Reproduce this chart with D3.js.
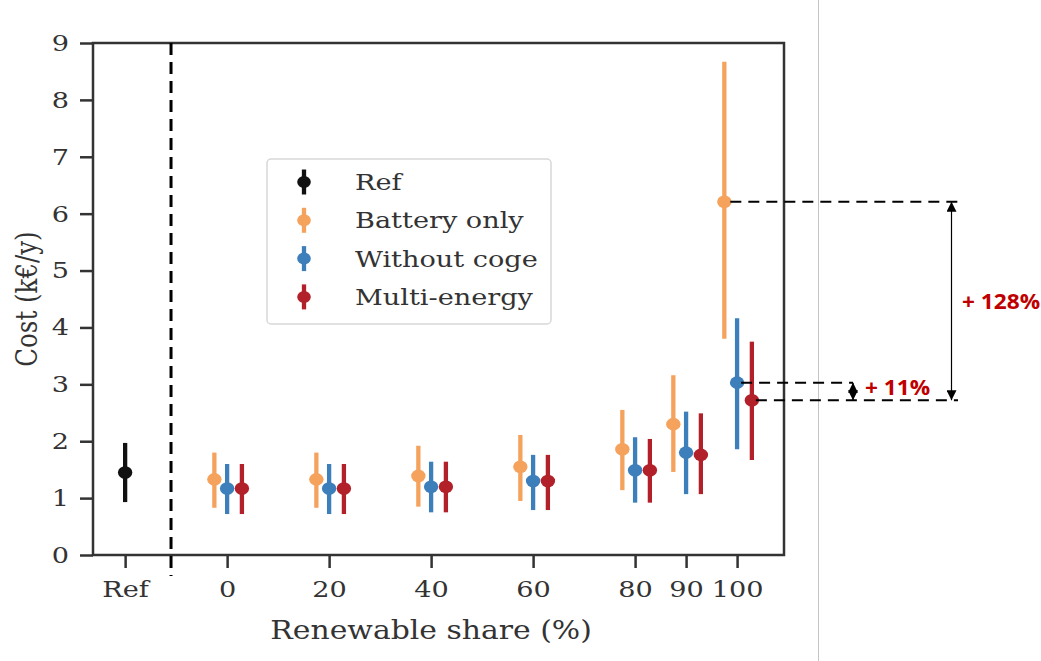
<!DOCTYPE html>
<html>
<head>
<meta charset="utf-8">
<script src="https://cdn.jsdelivr.net/npm/d3@7"></script>
<style>
  html, body { margin: 0; padding: 0; background: #fff; }
  svg { display: block; }
</style>
</head>
<body>
<svg id="chart" width="1041" height="661"></svg>
<script>
// Renewable share scenarios (%) and tick labels
const shares = [0, 20, 40, 60, 80, 90, 100];
const tickValues = [-20, 0, 20, 40, 60, 80, 90, 100];
const tickLabels = ["Ref", "0", "20", "40", "60", "80", "90", "100"];
const yTicks = [0, 1, 2, 3, 4, 5, 6, 7, 8, 9];

// Reference case (k€/y)
const refMean = [1.45];
const refLow = [0.93];
const refHigh = [1.97];

// Battery only
const batteryMean = [1.33, 1.33, 1.39, 1.55, 1.86, 2.30, 6.21];
const batteryLow  = [0.83, 0.83, 0.85, 0.95, 1.14, 1.46, 3.80];
const batteryHigh = [1.80, 1.80, 1.92, 2.11, 2.55, 3.16, 8.67];

// Without cogeneration
const withoutMean = [1.17, 1.17, 1.20, 1.30, 1.49, 1.80, 3.03];
const withoutLow  = [0.72, 0.72, 0.75, 0.79, 0.92, 1.07, 1.86];
const withoutHigh = [1.60, 1.60, 1.64, 1.76, 2.07, 2.52, 4.16];

// Multi-energy
const multiMean = [1.17, 1.17, 1.20, 1.30, 1.49, 1.76, 2.72];
const multiLow  = [0.72, 0.72, 0.75, 0.79, 0.92, 1.07, 1.67];
const multiHigh = [1.60, 1.60, 1.64, 1.76, 2.04, 2.49, 3.75];

const seriesNames = ["Ref", "Battery only", "Without coge", "Multi-energy"];
const seriesColors = ["#111111", "#f5a25d", "#3d7fba", "#b2202a"];

const svg = d3.select("#chart");
const serif = "'DejaVu Serif', serif";
const axisColor = "#333333";
const sx = 1.18; // horizontal stretch of the figure

const x = d3.scaleLinear().domain([-26.3, 109.2]).range([93, 784]);
const y = d3.scaleLinear().domain([0, 9]).range([555, 43]);

// Scenario series with their horizontal dodge (in share units)
const series = [
  { name: seriesNames[1], color: seriesColors[1], dx: -2.5, mean: batteryMean, low: batteryLow, high: batteryHigh },
  { name: seriesNames[2], color: seriesColors[2], dx: 0,    mean: withoutMean, low: withoutLow, high: withoutHigh },
  { name: seriesNames[3], color: seriesColors[3], dx: 2.9,  mean: multiMean,   low: multiLow,   high: multiHigh }
];

// Axes
const xAxis = d3.axisBottom(x).tickValues(tickValues)
  .tickFormat((d, i) => tickLabels[i]).tickSize(13).tickPadding(13);
const yAxis = d3.axisLeft(y).tickValues(yTicks).tickSize(13).tickPadding(11);

const gx = svg.append("g").attr("transform", "translate(0,555)").call(xAxis);
const gy = svg.append("g").attr("transform", "translate(93,0)").call(yAxis);
[gx, gy].forEach(g => {
  g.select(".domain").remove();
  g.selectAll(".tick line").attr("stroke", axisColor).attr("stroke-width", 2.5);
  g.selectAll(".tick text").attr("fill", "#333").style("font-family", serif).style("font-size", "23px")
    .each(function () {
      const t = d3.select(this);
      const tx = +t.attr("x") || 0;
      t.attr("x", tx / sx).attr("transform", `scale(${sx},1)`);
    });
});

// Frame
svg.append("rect").attr("x", x.range()[0]).attr("y", y.range()[1])
  .attr("width", x.range()[1] - x.range()[0]).attr("height", y.range()[0] - y.range()[1])
  .attr("fill", "none").attr("stroke", axisColor).attr("stroke-width", 2.5);

// Separator between reference and scenarios
svg.append("line").attr("x1", x(-11)).attr("x2", x(-11))
  .attr("y1", y(9)).attr("y2", 576)
  .attr("stroke", "#000").attr("stroke-width", 3).attr("stroke-dasharray", "12,7");

// Axis titles
svg.append("text").attr("transform", `translate(${x(40)},639) scale(${sx},1)`).attr("text-anchor", "middle")
  .style("font-family", serif).style("font-size", "25.3px").attr("fill", "#333")
  .text("Renewable share (%)");
svg.append("text").attr("transform", `translate(37,${y(4.5)}) scale(${sx},1) rotate(-90)`)
  .attr("text-anchor", "middle")
  .style("font-family", serif).style("font-size", "24.5px").attr("fill", "#333")
  .text("Cost (k€/y)");

// Error bars
function drawPoints(g, xs, mean, low, high, color) {
  g.selectAll("line.err").data(xs).join("line").attr("class", "err")
    .attr("x1", d => x(d)).attr("x2", d => x(d))
    .attr("y1", (d, i) => y(low[i])).attr("y2", (d, i) => y(high[i]))
    .attr("stroke", color).attr("stroke-width", 4.3);
  g.selectAll("ellipse").data(xs).join("ellipse")
    .attr("cx", d => x(d)).attr("cy", (d, i) => y(mean[i])).attr("rx", 7.2).attr("ry", 6.3)
    .attr("fill", color);
}

drawPoints(svg.append("g"), [-20], refMean, refLow, refHigh, seriesColors[0]);
series.forEach(s => {
  drawPoints(svg.append("g"), shares.map(v => v + s.dx), s.mean, s.low, s.high, s.color);
});

// Legend
const legend = svg.append("g");
legend.append("rect").attr("x", 267).attr("y", 159).attr("width", 284).attr("height", 165)
  .attr("rx", 4).attr("fill", "#fff").attr("fill-opacity", 0.8)
  .attr("stroke", "#d8d8d8").attr("stroke-width", 1.5);
seriesNames.forEach((name, i) => {
  const cy = 182 + i * 38.3;
  legend.append("line").attr("x1", 304).attr("x2", 304).attr("y1", cy - 12.5).attr("y2", cy + 12.5)
    .attr("stroke", seriesColors[i]).attr("stroke-width", 4.3);
  legend.append("ellipse").attr("cx", 304).attr("cy", cy).attr("rx", 6.8).attr("ry", 6)
    .attr("fill", seriesColors[i]);
  legend.append("text").attr("transform", `translate(355,${cy + 8}) scale(${sx},1)`)
    .style("font-family", serif).style("font-size", "23px").attr("fill", "#333")
    .text(name);
});

// Page divider
svg.append("line").attr("x1", 818.5).attr("x2", 818.5).attr("y1", 0).attr("y2", 661)
  .attr("stroke", "#c4c4c4").attr("stroke-width", 1);

// Cost increase annotations at 100 % renewable share
const last = shares.length - 1;
const yBat = y(batteryMean[last]);
const yWo = y(withoutMean[last]);
const yMu = y(multiMean[last]);
const pctBattery = Math.round((batteryMean[last] / multiMean[last] - 1) * 100);
const pctWithout = Math.round((withoutMean[last] / multiMean[last] - 1) * 100);

const defs = svg.append("defs");
defs.append("marker").attr("id", "tri").attr("viewBox", "0 0 10 10")
  .attr("refX", 10).attr("refY", 5).attr("markerWidth", 10).attr("markerHeight", 10)
  .attr("markerUnits", "userSpaceOnUse").attr("orient", "auto-start-reverse")
  .append("path").attr("d", "M0,0 L10,5 L0,10 Z").attr("fill", "#000");

const dash = "11,7";
svg.append("line").attr("x1", x(100 - 2.5) + 6).attr("x2", 958).attr("y1", yBat).attr("y2", yBat)
  .attr("stroke", "#000").attr("stroke-width", 2).attr("stroke-dasharray", dash);
svg.append("line").attr("x1", x(100) + 4).attr("x2", 853).attr("y1", yWo).attr("y2", yWo)
  .attr("stroke", "#000").attr("stroke-width", 2).attr("stroke-dasharray", dash);
svg.append("line").attr("x1", x(100 + 2.9) + 4).attr("x2", 958).attr("y1", yMu).attr("y2", yMu)
  .attr("stroke", "#000").attr("stroke-width", 2).attr("stroke-dasharray", dash);

svg.append("line").attr("x1", 951.5).attr("x2", 951.5).attr("y1", yBat).attr("y2", yMu)
  .attr("stroke", "#000").attr("stroke-width", 1.2)
  .attr("marker-start", "url(#tri)").attr("marker-end", "url(#tri)");
svg.append("line").attr("x1", 853).attr("x2", 853).attr("y1", yWo).attr("y2", yMu)
  .attr("stroke", "#000").attr("stroke-width", 1.2)
  .attr("marker-start", "url(#tri)").attr("marker-end", "url(#tri)");

svg.append("text").attr("transform", `translate(962,${(yBat + yMu) / 2 + 8.5}) scale(1.08,1)`)
  .style("font-family", "'Open Sans', sans-serif").style("font-weight", "bold").style("font-size", "21px")
  .attr("fill", "#c00000").text(`+ ${pctBattery}%`);
svg.append("text").attr("transform", `translate(865,${(yWo + yMu) / 2 + 3.5}) scale(1.08,1)`)
  .style("font-family", "'Open Sans', sans-serif").style("font-weight", "bold").style("font-size", "21px")
  .attr("fill", "#c00000").text(`+ ${pctWithout}%`);
</script>
</body>
</html>
